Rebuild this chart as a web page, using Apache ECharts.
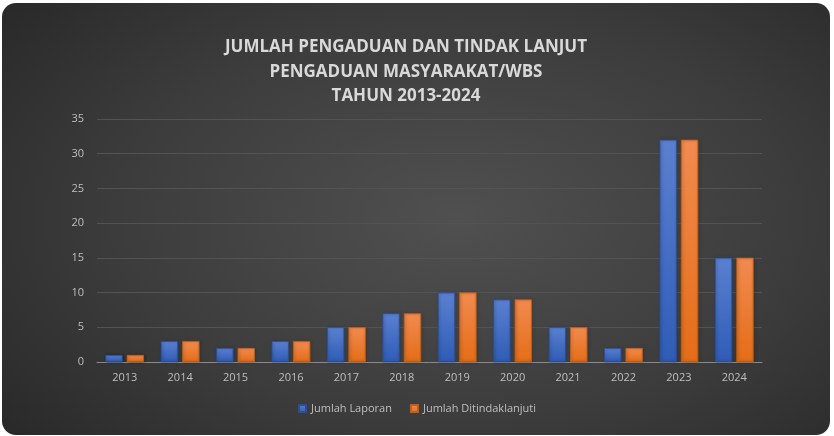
<!DOCTYPE html>
<html><head><meta charset="utf-8">
<script src="https://cdn.jsdelivr.net/npm/echarts@6/dist/echarts.min.js"></script>
<style>
html,body{margin:0;padding:0;background:#fff;}
#bg{position:absolute;left:2px;top:3px;width:828px;height:432px;border-radius:14px;
background:radial-gradient(ellipse 75% 85% at 55% 50%, #505050 0%, #3c3c3c 55%, #262626 100%);}
#chart{position:absolute;left:0;top:0;width:834px;height:436px;}
</style></head>
<body>
<div id="bg"></div>
<div id="chart"></div>
<script>
const categories = ['2013','2014','2015','2016','2017','2018','2019','2020','2021','2022','2023','2024'];
const laporan = [1,3,2,3,5,7,10,9,5,2,32,15];
const ditindaklanjuti = [1,3,2,3,5,7,10,9,5,2,32,15];
const titleText = 'JUMLAH PENGADUAN DAN TINDAK LANJUT\nPENGADUAN MASYARAKAT/WBS\nTAHUN 2013-2024';

const chart = echarts.init(document.getElementById('chart'), null, {renderer:'canvas'});
const blue = new echarts.graphic.LinearGradient(0,0,0,1,[{offset:0,color:'#5b80d0'},{offset:1,color:'#2f5cb6'}]);
const orange = new echarts.graphic.LinearGradient(0,0,0,1,[{offset:0,color:'#f28b50'},{offset:1,color:'#e46d17'}]);
chart.setOption({
  backgroundColor:'transparent',
  title:{text:titleText,left:401,top:30,textAlign:'center',
    textStyle:{color:'#d9d9d9',fontFamily:'Open Sans',fontWeight:'bold',fontSize:17,lineHeight:24.5}},
  legend:{bottom:17,left:'center',itemWidth:7,itemHeight:7,itemGap:18,icon:'rect',
    textStyle:{color:'#bfbfbf',fontFamily:'Open Sans',fontSize:11},
    data:['Jumlah Laporan','Jumlah Ditindaklanjuti']},
  grid:{left:97,right:72,top:119,bottom:74},
  xAxis:{type:'category',data:categories,
    axisLine:{lineStyle:{color:'#8a8a8a',width:1}},axisTick:{show:false},
    axisLabel:{color:'#bfbfbf',fontFamily:'Open Sans',fontSize:11,margin:10}},
  yAxis:{type:'value',min:0,max:35,interval:5,
    axisLine:{show:false},axisTick:{show:false},
    splitLine:{lineStyle:{color:'#535353',width:1}},
    axisLabel:{color:'#bfbfbf',fontFamily:'Open Sans',fontSize:11,margin:13}},
  series:[
    {name:'Jumlah Laporan',type:'bar',data:laporan,barWidth:17,barGap:'26%',
     itemStyle:{color:blue,borderColor:'#2a4e9a',borderWidth:0.5,shadowColor:'rgba(0,0,0,0.45)',shadowBlur:3,shadowOffsetX:1}},
    {name:'Jumlah Ditindaklanjuti',type:'bar',data:ditindaklanjuti,barWidth:17,
     itemStyle:{color:orange,borderColor:'#c45e15',borderWidth:0.5,shadowColor:'rgba(0,0,0,0.45)',shadowBlur:3,shadowOffsetX:1}}
  ],
  color:['#4472c4','#ed7d31']
});
</script>
</body></html>
